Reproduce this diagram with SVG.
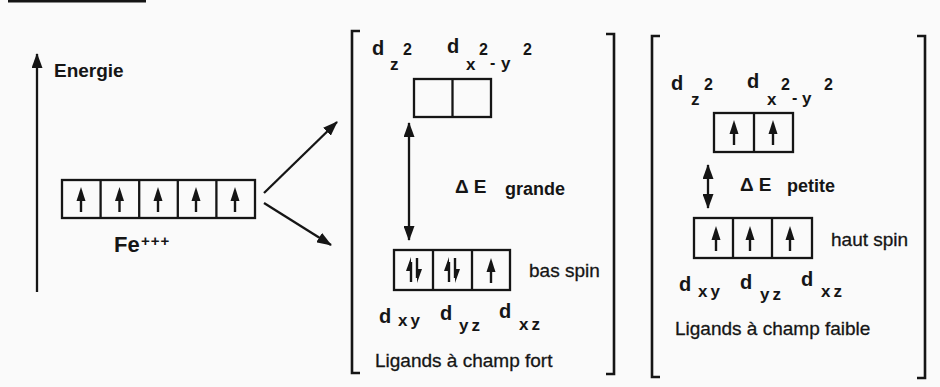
<svg xmlns="http://www.w3.org/2000/svg" width="940" height="387" viewBox="0 0 940 387">
<defs>
<style>
text{font-family:"Liberation Sans",Arial,sans-serif;fill:#151515}
.b{font-weight:bold}
.d{font-weight:bold;font-size:20px}
.s{font-weight:bold;font-size:17px;letter-spacing:3px}
.e{font-weight:bold;font-size:16px}
.lab{font-size:19px;stroke:#151515;stroke-width:0.3}
.box{fill:none;stroke:#151515;stroke-width:2.3}
.ln{stroke:#151515;stroke-width:2.3;fill:none}
.br{stroke:#151515;stroke-width:2.6;fill:none}
.el{stroke:#151515;stroke-width:2.4}
.hd{fill:#151515}
</style>
<marker id="ah" markerUnits="userSpaceOnUse" markerWidth="15" markerHeight="11" refX="14" refY="5.5" orient="auto-start-reverse" viewBox="0 0 15 11">
<path d="M0,0 L15,5.5 L0,11 z" fill="#151515"/>
</marker>
<g id="up">
<line class="el" x1="0" y1="12" x2="0" y2="-4"/>
<polygon class="hd" points="0,-13 -4.5,1 4.5,1"/>
</g>
<g id="pair">
<line class="el" x1="-3" y1="12" x2="-3" y2="-8"/>
<polygon class="hd" points="-3,-13 -8,1 -3,1"/>
<line class="el" x1="3" y1="-12" x2="3" y2="8"/>
<polygon class="hd" points="3,13 8,-1 3,-1"/>
</g>
</defs>
<rect width="940" height="387" fill="#fafafa"/>
<rect x="8" y="0" width="138" height="2.5" fill="#151515"/>

<g id="axis">
<text class="b" x="54" y="77" font-size="19">Energie</text>
</g>

<g id="fe">
<rect class="box" x="62" y="180" width="193" height="38"/>
<line class="ln" x1="100.6" y1="180" x2="100.6" y2="218"/>
<line class="ln" x1="139.2" y1="180" x2="139.2" y2="218"/>
<line class="ln" x1="177.8" y1="180" x2="177.8" y2="218"/>
<line class="ln" x1="216.4" y1="180" x2="216.4" y2="218"/>
<use href="#up" x="81" y="200"/>
<use href="#up" x="119.5" y="200"/>
<use href="#up" x="158" y="200"/>
<use href="#up" x="196" y="200"/>
<use href="#up" x="235" y="200"/>
<text class="b" x="114" y="252" font-size="22">Fe</text>
<text class="b" x="141" y="246" font-size="15" letter-spacing="1">+++</text>
</g>

<g id="strong">
<path class="br" d="M360,31 H352 V373 H360"/>
<path class="br" d="M606,34 H614 V374 H606"/>
<text class="d" x="372" y="55">d</text>
<text class="s" x="390" y="70">z</text>
<text class="e" x="403" y="55">2</text>
<text class="d" x="447" y="53">d</text>
<text class="s" x="466" y="70">x</text>
<text class="e" x="479" y="55">2</text>
<text class="e" x="490" y="68">-</text>
<text class="s" x="501" y="69">y</text>
<text class="e" x="523" y="55">2</text>
<rect class="box" x="414" y="79" width="77" height="38"/>
<line class="ln" x1="452.5" y1="79" x2="452.5" y2="117"/>
<text class="b" x="455" y="193" font-size="19" letter-spacing="5">ΔE</text>
<text class="b" x="505" y="195" font-size="18">grande</text>
<rect class="box" x="394" y="250" width="116" height="40"/>
<line class="ln" x1="433" y1="250" x2="433" y2="290"/>
<line class="ln" x1="472" y1="250" x2="472" y2="290"/>
<use href="#pair" x="414" y="270"/>
<use href="#pair" x="452" y="270"/>
<use href="#up" x="491" y="271"/>
<text class="lab" x="529" y="277">bas spin</text>
<text class="d" x="379" y="323">d</text>
<text class="s" x="398" y="326">xy</text>
<text class="d" x="440" y="320">d</text>
<text class="s" x="459" y="331">yz</text>
<text class="d" x="499" y="318">d</text>
<text class="s" x="519" y="330">xz</text>
<text class="lab" x="375" y="367">Ligands à champ fort</text>
</g>

<g id="weak">
<path class="br" d="M660,36 H652 V377 H660"/>
<path class="br" d="M917,36 H925 V378 H917"/>
<text class="d" x="671" y="90">d</text>
<text class="s" x="691" y="105">z</text>
<text class="e" x="704" y="90">2</text>
<text class="d" x="747" y="88">d</text>
<text class="s" x="767" y="105">x</text>
<text class="e" x="781" y="90">2</text>
<text class="e" x="792" y="103">-</text>
<text class="s" x="802" y="104">y</text>
<text class="e" x="824" y="90">2</text>
<rect class="box" x="714" y="113" width="79" height="39"/>
<line class="ln" x1="754" y1="113" x2="754" y2="152"/>
<use href="#up" x="734" y="133"/>
<use href="#up" x="773" y="133"/>
<text class="b" x="740" y="191" font-size="19" letter-spacing="5">ΔE</text>
<text class="b" x="787" y="192" font-size="18">petite</text>
<rect class="box" x="694" y="218" width="118" height="40"/>
<line class="ln" x1="733" y1="218" x2="733" y2="258"/>
<line class="ln" x1="772" y1="218" x2="772" y2="258"/>
<use href="#up" x="716" y="239"/>
<use href="#up" x="750" y="239"/>
<use href="#up" x="790" y="239"/>
<text class="lab" x="831" y="246">haut spin</text>
<text class="d" x="679" y="291">d</text>
<text class="s" x="698" y="297">xy</text>
<text class="d" x="740" y="289">d</text>
<text class="s" x="760" y="300">yz</text>
<text class="d" x="801" y="286">d</text>
<text class="s" x="821" y="297">xz</text>
<text class="lab" x="675" y="335">Ligands à champ faible</text>
</g>

<g id="connectors">
<line class="ln" x1="37" y1="292" x2="37" y2="54" marker-end="url(#ah)"/>
<line class="ln" x1="264" y1="193" x2="337" y2="122" marker-end="url(#ah)"/>
<line class="ln" x1="264" y1="203" x2="331" y2="245" marker-end="url(#ah)"/>
<line class="ln" x1="409" y1="123" x2="409" y2="240" marker-start="url(#ah)" marker-end="url(#ah)"/>
<line class="ln" x1="708" y1="165" x2="708" y2="208" marker-start="url(#ah)" marker-end="url(#ah)"/>
</g>
</svg>
